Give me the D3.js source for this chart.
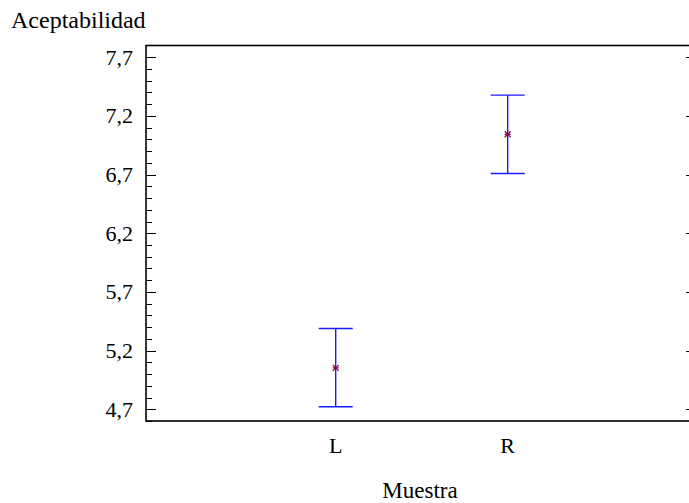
<!DOCTYPE html>
<html>
<head>
<meta charset="utf-8">
<script src="https://cdn.jsdelivr.net/npm/d3@7"></script>
<style>
  html, body { margin: 0; padding: 0; background: #fff; }
  svg { display: block; }
</style>
</head>
<body>
<svg id="chart" width="689" height="503"></svg>
<script>
// Sample means with their interval limits
const categories = ["L", "R"];
const means = [5.053, 7.043];
const lower = [4.722, 6.709];
const upper = [5.388, 7.377];
const yTicks = [4.7, 5.2, 5.7, 6.2, 6.7, 7.2, 7.7];
const yMinorTicks = d3.range(46, 78).map(d => d / 10);

const FONT = "'Liberation Serif', serif";
const svg = d3.select("#chart");
const plotLeft = 146, plotRight = 691, plotTop = 45.5, plotBottom = 421;

const y = d3.scaleLinear().domain([4.6, 7.8]).range([plotBottom, plotTop]);
const x = d3.scaleLinear().domain([-1.103, 2.066]).range([plotLeft, plotRight]);

const fmt = v => d3.format(".1f")(v).replace(".", ",");
const py = d => Math.round(y(d)) + 0.5;

// Left axis: long major ticks, short minor ticks, both pointing inward
const gL = svg.append("g").attr("transform", `translate(${plotLeft},0)`);
gL.selectAll("line.minor").data(yMinorTicks).join("line")
  .attr("class", "minor")
  .attr("x1", 0).attr("x2", 6)
  .attr("y1", py).attr("y2", py)
  .attr("stroke", "#000").attr("stroke-width", 1);
gL.selectAll("line.major").data(yTicks).join("line")
  .attr("class", "major")
  .attr("x1", 0).attr("x2", 10)
  .attr("y1", py).attr("y2", py)
  .attr("stroke", "#000").attr("stroke-width", 1);
gL.selectAll("text").data(yTicks).join("text")
  .attr("x", -13).attr("y", d => y(d)).attr("dy", "0.34em")
  .attr("text-anchor", "end").attr("font-size", 22).attr("font-family", FONT).attr("fill", "#000")
  .text(fmt);

// Right axis: major ticks only
svg.append("g").selectAll("line").data(yTicks).join("line")
  .attr("x1", plotRight - 5).attr("x2", plotRight)
  .attr("y1", py).attr("y2", py)
  .attr("stroke", "#000").attr("stroke-width", 1);

// Frame
svg.append("rect")
  .attr("x", plotLeft).attr("y", plotTop)
  .attr("width", plotRight - plotLeft).attr("height", plotBottom - plotTop)
  .attr("fill", "none").attr("stroke", "#000").attr("stroke-width", 1.6);

// Category labels
svg.append("g").selectAll("text").data(categories).join("text")
  .attr("x", (d, i) => x(i)).attr("y", 453)
  .attr("text-anchor", "middle").attr("font-size", 22).attr("font-family", FONT).attr("fill", "#000")
  .text(d => d);

// Axis titles
svg.append("text").attr("x", 11).attr("y", 28)
  .attr("font-size", 24).attr("font-family", FONT).attr("fill", "#000").text("Aceptabilidad");
svg.append("text").attr("x", 420).attr("y", 498)
  .attr("text-anchor", "middle").attr("font-size", 23).attr("font-family", FONT).attr("fill", "#000").text("Muestra");

// Interval bars
const bars = svg.append("g").selectAll("g").data(categories).join("g");
const capHalf = 17;
bars.append("line")
  .attr("x1", (d, i) => x(i)).attr("x2", (d, i) => x(i))
  .attr("y1", (d, i) => y(upper[i])).attr("y2", (d, i) => y(lower[i]))
  .attr("stroke", "#1a1aff").attr("stroke-width", 1.4);
bars.append("line")
  .attr("x1", (d, i) => x(i) - capHalf).attr("x2", (d, i) => x(i) + capHalf)
  .attr("y1", (d, i) => y(upper[i])).attr("y2", (d, i) => y(upper[i]))
  .attr("stroke", "#1a1aff").attr("stroke-width", 1.4);
bars.append("line")
  .attr("x1", (d, i) => x(i) - capHalf).attr("x2", (d, i) => x(i) + capHalf)
  .attr("y1", (d, i) => y(lower[i])).attr("y2", (d, i) => y(lower[i]))
  .attr("stroke", "#1a1aff").attr("stroke-width", 1.4);

// Mean markers (small asterisk)
const s = 3;
bars.append("path")
  .attr("transform", (d, i) => `translate(${x(i)},${y(means[i])})`)
  .attr("d", `M${-s},${-s}L${s},${s}M${-s},${s}L${s},${-s}M${-s},0L${s},0`)
  .attr("stroke", "#8b0a4a").attr("stroke-width", 1.3).attr("fill", "none");
</script>
</body>
</html>
